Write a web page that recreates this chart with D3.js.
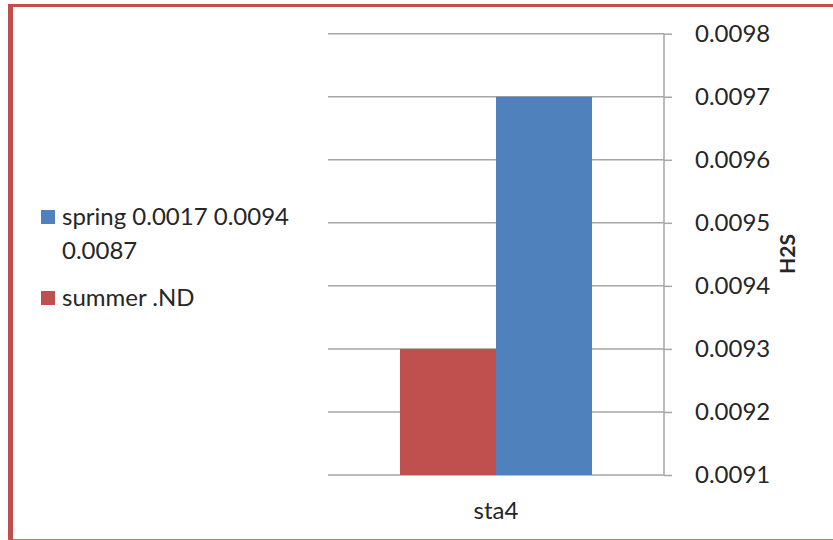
<!DOCTYPE html>
<html>
<head>
<meta charset="utf-8">
<script src="https://cdn.jsdelivr.net/npm/d3@7/dist/d3.min.js"></script>
<style>
  html, body { margin: 0; padding: 0; background: #fff; }
  svg { display: block; }
  text { font-family: Lato, "Open Sans", sans-serif; fill: #262626; }
</style>
</head>
<body>
<svg id="chart" width="833" height="540"></svg>
<script>
// Station categories on the x axis
const categories = ["sta4"];
// Series, drawn left to right inside each category
const seriesNames = ["summer .ND", "spring 0.0017 0.0094 0.0087"];
const seriesColors = ["#C0504D", "#4F81BD"];
const summerValues = [0.0093];
const springValues = [0.0097];
// Legend order (top to bottom)
const legendOrder = [1, 0];
// Right-hand value axis ticks
const yTicks = [0.0091, 0.0092, 0.0093, 0.0094, 0.0095, 0.0096, 0.0097, 0.0098];
const yTitle = "H2S";

const seriesValues = [summerValues, springValues];

const svg = d3.select("#chart");
const W = 833, H = 540;
const plot = { left: 328, right: 664, top: 33.7, bottom: 475 };
const fontSize = "24px";

// Outer frame
const frameColor = "#C0504D";
svg.append("line").attr("x1", 10.5).attr("x2", 10.5).attr("y1", 4).attr("y2", 540)
  .attr("stroke", frameColor).attr("stroke-width", 5);
svg.append("line").attr("x1", 8).attr("x2", W).attr("y1", 5.5).attr("y2", 5.5)
  .attr("stroke", frameColor).attr("stroke-width", 3);
svg.append("line").attr("x1", 8).attr("x2", W).attr("y1", 539.5).attr("y2", 539.5)
  .attr("stroke", frameColor).attr("stroke-width", 1.2).attr("opacity", 0.8);

const y = d3.scaleLinear()
  .domain([d3.min(yTicks), d3.max(yTicks)])
  .range([plot.bottom, plot.top]);

const x0 = d3.scaleBand()
  .domain(categories)
  .range([plot.left, plot.right])
  .paddingInner(0).paddingOuter(0);

// 150% gap width: two bars take 2/(2+1.5) of the category band
const clusterW = x0.bandwidth() * 2 / 3.5;
const x1 = d3.scaleBand()
  .domain(d3.range(seriesNames.length))
  .range([0, clusterW]);

const gridColor = "#A6A6A6";

// Horizontal gridlines
svg.append("g")
  .selectAll("line")
  .data(yTicks)
  .join("line")
  .attr("x1", plot.left).attr("x2", plot.right)
  .attr("y1", d => y(d)).attr("y2", d => y(d))
  .attr("stroke", gridColor).attr("stroke-width", 1.5);

// Bars
const cat = svg.append("g");
categories.forEach((c, ci) => {
  const gx = x0(c) + (x0.bandwidth() - clusterW) / 2;
  seriesValues.forEach((vals, si) => {
    cat.append("rect")
      .attr("x", gx + x1(si))
      .attr("width", x1.bandwidth())
      .attr("y", y(vals[ci]))
      .attr("height", y.range()[0] - y(vals[ci]))
      .attr("fill", seriesColors[si]);
  });
});

// Right value axis
const yAxis = d3.axisRight(y)
  .tickValues(yTicks)
  .tickSize(8)
  .tickPadding(23)
  .tickFormat(d3.format(".4f"));
const ag = svg.append("g")
  .attr("transform", `translate(${plot.right},0)`)
  .call(yAxis);
ag.select(".domain").attr("stroke", gridColor).attr("stroke-width", 1.5)
  .attr("d", `M0,${plot.top}V${plot.bottom}`);
ag.selectAll(".tick line").attr("stroke", gridColor).attr("stroke-width", 1.5);
ag.selectAll(".tick text")
  .style("font-family", "Lato, sans-serif")
  .style("font-size", fontSize)
  .attr("fill", "#262626");

// Category labels
svg.append("g")
  .selectAll("text")
  .data(categories)
  .join("text")
  .attr("x", d => x0(d) + x0.bandwidth() / 2)
  .attr("y", 519)
  .attr("text-anchor", "middle")
  .style("font-size", fontSize)
  .text(d => d);

// Axis title
svg.append("text")
  .attr("transform", "translate(795,254) rotate(-90)")
  .attr("text-anchor", "middle")
  .style("font-size", "21px")
  .style("font-weight", "bold")
  .text(yTitle);

// Legend with word wrapping
const legend = svg.append("g");
const legendX = 41, textX = 62, maxTextW = 245, lineH = 34;
let ly = 217;
legendOrder.forEach((si, k) => {
  const t = legend.append("text")
    .attr("x", textX)
    .style("font-size", fontSize);
  const words = seriesNames[si].split(" ");
  let lines = [], cur = "";
  words.forEach(w => {
    const trial = cur ? cur + " " + w : w;
    t.text(trial);
    if (cur && t.node().getComputedTextLength() > maxTextW) {
      lines.push(cur);
      cur = w;
    } else {
      cur = trial;
    }
  });
  lines.push(cur);
  t.text(null);
  lines.forEach((ln, i) => {
    t.append("tspan")
      .attr("x", textX)
      .attr("y", ly + i * lineH)
      .attr("dy", "0.35em")
      .text(ln);
  });
  legend.append("rect")
    .attr("x", legendX).attr("y", ly - 7)
    .attr("width", 14).attr("height", 14)
    .attr("fill", seriesColors[si]);
  ly += lines.length * lineH + 13;
});
</script>
</body>
</html>
